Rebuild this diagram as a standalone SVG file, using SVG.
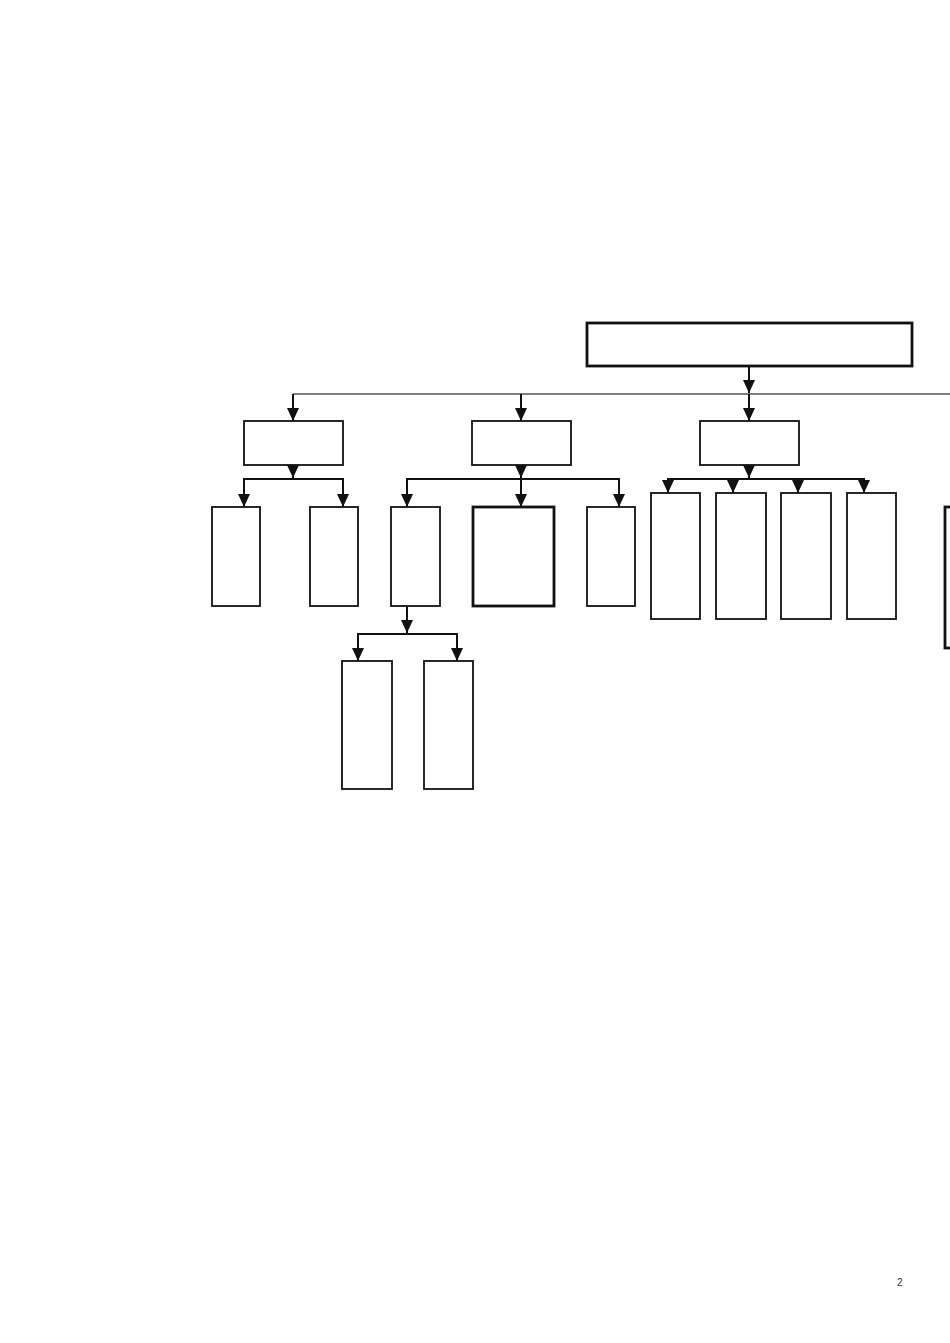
<svg xmlns="http://www.w3.org/2000/svg" width="950" height="1343" viewBox="0 0 950 1343">
<style>
.box{fill:#fff;stroke:#111;stroke-width:1.8}
.bold{stroke-width:2.8}
.ln{fill:none;stroke:#111;stroke-width:2}
.thin{fill:none;stroke:#555;stroke-width:1.4}
.pg{font-family:"Liberation Sans",Arial,sans-serif;font-size:10px;fill:#333}
</style>
<defs>
<marker id="ah" markerUnits="userSpaceOnUse" markerWidth="13" markerHeight="12" viewBox="0 0 13 12" refX="13" refY="6" orient="auto">
<path d="M0,0 L13,6 L0,12 Z" fill="#111"/>
</marker>
</defs>
<rect width="950" height="1343" fill="#fff"/>
<g id="connectors">
<line class="thin" x1="293" y1="394" x2="950" y2="394"/>
<line class="ln" x1="749" y1="366" x2="749" y2="393" marker-end="url(#ah)"/>
<line class="ln" x1="749" y1="394" x2="749" y2="421" marker-end="url(#ah)"/>
<line class="ln" x1="293" y1="394" x2="293" y2="421" marker-end="url(#ah)"/>
<line class="ln" x1="521" y1="394" x2="521" y2="421" marker-end="url(#ah)"/>
<line class="ln" x1="293" y1="465" x2="293" y2="478" marker-end="url(#ah)"/>
<path class="ln" d="M244,507 V479 H343 V507"/>
<line class="ln" x1="244" y1="479" x2="244" y2="507" marker-end="url(#ah)"/>
<line class="ln" x1="343" y1="479" x2="343" y2="507" marker-end="url(#ah)"/>
<line class="ln" x1="521" y1="465" x2="521" y2="478" marker-end="url(#ah)"/>
<path class="ln" d="M407,507 V479 H619 V507"/>
<line class="ln" x1="407" y1="479" x2="407" y2="507" marker-end="url(#ah)"/>
<line class="ln" x1="521" y1="479" x2="521" y2="507" marker-end="url(#ah)"/>
<line class="ln" x1="619" y1="479" x2="619" y2="507" marker-end="url(#ah)"/>
<line class="ln" x1="749" y1="465" x2="749" y2="478" marker-end="url(#ah)"/>
<path class="ln" d="M668,493 V479 H864 V493"/>
<line class="ln" x1="668" y1="479" x2="668" y2="493" marker-end="url(#ah)"/>
<line class="ln" x1="733" y1="479" x2="733" y2="493" marker-end="url(#ah)"/>
<line class="ln" x1="798" y1="479" x2="798" y2="493" marker-end="url(#ah)"/>
<line class="ln" x1="864" y1="479" x2="864" y2="493" marker-end="url(#ah)"/>
<line class="ln" x1="407" y1="606" x2="407" y2="633" marker-end="url(#ah)"/>
<path class="ln" d="M358,661 V634 H457 V661"/>
<line class="ln" x1="358" y1="634" x2="358" y2="661" marker-end="url(#ah)"/>
<line class="ln" x1="457" y1="634" x2="457" y2="661" marker-end="url(#ah)"/>
</g>
<g id="root"><rect class="box bold" x="587" y="323" width="325" height="43"/></g>
<g id="l2a"><rect class="box" x="244" y="421" width="99" height="44"/></g>
<g id="l2b"><rect class="box" x="472" y="421" width="99" height="44"/></g>
<g id="l2c"><rect class="box" x="700" y="421" width="99" height="44"/></g>
<g id="a1"><rect class="box" x="212" y="507" width="48" height="99"/></g>
<g id="a2"><rect class="box" x="310" y="507" width="48" height="99"/></g>
<g id="b1"><rect class="box" x="391" y="507" width="49" height="99"/></g>
<g id="b2"><rect class="box bold" x="473" y="507" width="81" height="99"/></g>
<g id="b3"><rect class="box" x="587" y="507" width="48" height="99"/></g>
<g id="b1a"><rect class="box" x="342" y="661" width="50" height="128"/></g>
<g id="b1b"><rect class="box" x="424" y="661" width="49" height="128"/></g>
<g id="c1"><rect class="box" x="651" y="493" width="49" height="126"/></g>
<g id="c2"><rect class="box" x="716" y="493" width="50" height="126"/></g>
<g id="c3"><rect class="box" x="781" y="493" width="50" height="126"/></g>
<g id="c4"><rect class="box" x="847" y="493" width="49" height="126"/></g>
<g id="d1"><rect class="box bold" x="945" y="507" width="40" height="141"/></g>
<text class="pg" x="897" y="1286">2</text>
</svg>
